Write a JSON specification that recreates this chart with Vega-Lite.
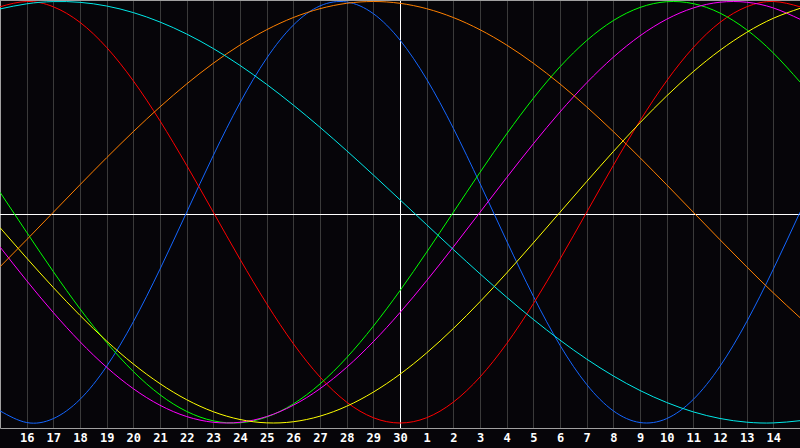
{
  "$schema": "https://vega.github.io/schema/vega-lite/v6.json",
  "description": "Biorhythm chart, seven cycles over 30 days.",
  "width": 800,
  "height": 428,
  "autosize": {"type": "none"},
  "padding": {"left": 0, "right": 0, "top": 0, "bottom": 20},
  "background": "#060509",
  "config": {"view": {"stroke": null, "fill": "#060509"}},
  "data": {"values": [
    {"day":0,"value":-0.9423,"cycle":"physical"},{"day":1,"value":-0.9977,"cycle":"physical"},{"day":2,"value":-0.9791,"cycle":"physical"},{"day":3,"value":-0.8879,"cycle":"physical"},{"day":4,"value":-0.7308,"cycle":"physical"},{"day":5,"value":-0.5196,"cycle":"physical"},{"day":6,"value":-0.2698,"cycle":"physical"},{"day":7,"value":0,"cycle":"physical"},{"day":8,"value":0.2698,"cycle":"physical"},{"day":9,"value":0.5196,"cycle":"physical"},{"day":10,"value":0.7308,"cycle":"physical"},{"day":11,"value":0.8879,"cycle":"physical"},{"day":12,"value":0.9791,"cycle":"physical"},{"day":13,"value":0.9977,"cycle":"physical"},{"day":14,"value":0.9423,"cycle":"physical"},{"day":15,"value":0.8170,"cycle":"physical"},{"day":16,"value":0.6311,"cycle":"physical"},{"day":17,"value":0.3984,"cycle":"physical"},{"day":18,"value":0.1362,"cycle":"physical"},{"day":19,"value":-0.1362,"cycle":"physical"},{"day":20,"value":-0.3984,"cycle":"physical"},{"day":21,"value":-0.6311,"cycle":"physical"},{"day":22,"value":-0.8170,"cycle":"physical"},{"day":23,"value":-0.9423,"cycle":"physical"},{"day":24,"value":-0.9977,"cycle":"physical"},{"day":25,"value":-0.9791,"cycle":"physical"},{"day":26,"value":-0.8879,"cycle":"physical"},{"day":27,"value":-0.7308,"cycle":"physical"},{"day":28,"value":-0.5196,"cycle":"physical"},{"day":29,"value":-0.2698,"cycle":"physical"},{"day":30,"value":0,"cycle":"physical"},
    {"day":0,"value":0.9749,"cycle":"emotional"},{"day":1,"value":1,"cycle":"emotional"},{"day":2,"value":0.9749,"cycle":"emotional"},{"day":3,"value":0.9010,"cycle":"emotional"},{"day":4,"value":0.7818,"cycle":"emotional"},{"day":5,"value":0.6235,"cycle":"emotional"},{"day":6,"value":0.4339,"cycle":"emotional"},{"day":7,"value":0.2225,"cycle":"emotional"},{"day":8,"value":0,"cycle":"emotional"},{"day":9,"value":-0.2225,"cycle":"emotional"},{"day":10,"value":-0.4339,"cycle":"emotional"},{"day":11,"value":-0.6235,"cycle":"emotional"},{"day":12,"value":-0.7818,"cycle":"emotional"},{"day":13,"value":-0.9010,"cycle":"emotional"},{"day":14,"value":-0.9749,"cycle":"emotional"},{"day":15,"value":-1,"cycle":"emotional"},{"day":16,"value":-0.9749,"cycle":"emotional"},{"day":17,"value":-0.9010,"cycle":"emotional"},{"day":18,"value":-0.7818,"cycle":"emotional"},{"day":19,"value":-0.6235,"cycle":"emotional"},{"day":20,"value":-0.4339,"cycle":"emotional"},{"day":21,"value":-0.2225,"cycle":"emotional"},{"day":22,"value":0,"cycle":"emotional"},{"day":23,"value":0.2225,"cycle":"emotional"},{"day":24,"value":0.4339,"cycle":"emotional"},{"day":25,"value":0.6235,"cycle":"emotional"},{"day":26,"value":0.7818,"cycle":"emotional"},{"day":27,"value":0.9010,"cycle":"emotional"},{"day":28,"value":0.9749,"cycle":"emotional"},{"day":29,"value":1,"cycle":"emotional"},{"day":30,"value":0.9749,"cycle":"emotional"},
    {"day":0,"value":0.0951,"cycle":"intellectual"},{"day":1,"value":-0.0951,"cycle":"intellectual"},{"day":2,"value":-0.2817,"cycle":"intellectual"},{"day":3,"value":-0.4582,"cycle":"intellectual"},{"day":4,"value":-0.6182,"cycle":"intellectual"},{"day":5,"value":-0.7557,"cycle":"intellectual"},{"day":6,"value":-0.8660,"cycle":"intellectual"},{"day":7,"value":-0.9450,"cycle":"intellectual"},{"day":8,"value":-0.9898,"cycle":"intellectual"},{"day":9,"value":-0.9989,"cycle":"intellectual"},{"day":10,"value":-0.9718,"cycle":"intellectual"},{"day":11,"value":-0.9096,"cycle":"intellectual"},{"day":12,"value":-0.8146,"cycle":"intellectual"},{"day":13,"value":-0.6901,"cycle":"intellectual"},{"day":14,"value":-0.5406,"cycle":"intellectual"},{"day":15,"value":-0.3717,"cycle":"intellectual"},{"day":16,"value":-0.1893,"cycle":"intellectual"},{"day":17,"value":0,"cycle":"intellectual"},{"day":18,"value":0.1893,"cycle":"intellectual"},{"day":19,"value":0.3717,"cycle":"intellectual"},{"day":20,"value":0.5406,"cycle":"intellectual"},{"day":21,"value":0.6901,"cycle":"intellectual"},{"day":22,"value":0.8146,"cycle":"intellectual"},{"day":23,"value":0.9096,"cycle":"intellectual"},{"day":24,"value":0.9718,"cycle":"intellectual"},{"day":25,"value":0.9989,"cycle":"intellectual"},{"day":26,"value":0.9898,"cycle":"intellectual"},{"day":27,"value":0.9450,"cycle":"intellectual"},{"day":28,"value":0.8660,"cycle":"intellectual"},{"day":29,"value":0.7557,"cycle":"intellectual"},{"day":30,"value":0.6182,"cycle":"intellectual"},
    {"day":0,"value":-0.1646,"cycle":"intuitive"},{"day":1,"value":-0.3247,"cycle":"intuitive"},{"day":2,"value":-0.4759,"cycle":"intuitive"},{"day":3,"value":-0.6142,"cycle":"intuitive"},{"day":4,"value":-0.7357,"cycle":"intuitive"},{"day":5,"value":-0.8372,"cycle":"intuitive"},{"day":6,"value":-0.9158,"cycle":"intuitive"},{"day":7,"value":-0.9694,"cycle":"intuitive"},{"day":8,"value":-0.9966,"cycle":"intuitive"},{"day":9,"value":-0.9966,"cycle":"intuitive"},{"day":10,"value":-0.9694,"cycle":"intuitive"},{"day":11,"value":-0.9158,"cycle":"intuitive"},{"day":12,"value":-0.8372,"cycle":"intuitive"},{"day":13,"value":-0.7357,"cycle":"intuitive"},{"day":14,"value":-0.6142,"cycle":"intuitive"},{"day":15,"value":-0.4759,"cycle":"intuitive"},{"day":16,"value":-0.3247,"cycle":"intuitive"},{"day":17,"value":-0.1646,"cycle":"intuitive"},{"day":18,"value":0,"cycle":"intuitive"},{"day":19,"value":0.1646,"cycle":"intuitive"},{"day":20,"value":0.3247,"cycle":"intuitive"},{"day":21,"value":0.4759,"cycle":"intuitive"},{"day":22,"value":0.6142,"cycle":"intuitive"},{"day":23,"value":0.7357,"cycle":"intuitive"},{"day":24,"value":0.8372,"cycle":"intuitive"},{"day":25,"value":0.9158,"cycle":"intuitive"},{"day":26,"value":0.9694,"cycle":"intuitive"},{"day":27,"value":0.9966,"cycle":"intuitive"},{"day":28,"value":0.9966,"cycle":"intuitive"},{"day":29,"value":0.9694,"cycle":"intuitive"},{"day":30,"value":0.9158,"cycle":"intuitive"},
    {"day":0,"value":-0.0730,"cycle":"aesthetic"},{"day":1,"value":-0.2174,"cycle":"aesthetic"},{"day":2,"value":-0.3572,"cycle":"aesthetic"},{"day":3,"value":-0.4894,"cycle":"aesthetic"},{"day":4,"value":-0.6112,"cycle":"aesthetic"},{"day":5,"value":-0.7200,"cycle":"aesthetic"},{"day":6,"value":-0.8133,"cycle":"aesthetic"},{"day":7,"value":-0.8894,"cycle":"aesthetic"},{"day":8,"value":-0.9465,"cycle":"aesthetic"},{"day":9,"value":-0.9834,"cycle":"aesthetic"},{"day":10,"value":-0.9993,"cycle":"aesthetic"},{"day":11,"value":-0.9940,"cycle":"aesthetic"},{"day":12,"value":-0.9675,"cycle":"aesthetic"},{"day":13,"value":-0.9204,"cycle":"aesthetic"},{"day":14,"value":-0.8535,"cycle":"aesthetic"},{"day":15,"value":-0.7685,"cycle":"aesthetic"},{"day":16,"value":-0.6673,"cycle":"aesthetic"},{"day":17,"value":-0.5518,"cycle":"aesthetic"},{"day":18,"value":-0.4245,"cycle":"aesthetic"},{"day":19,"value":-0.2881,"cycle":"aesthetic"},{"day":20,"value":-0.1456,"cycle":"aesthetic"},{"day":21,"value":0,"cycle":"aesthetic"},{"day":22,"value":0.1456,"cycle":"aesthetic"},{"day":23,"value":0.2881,"cycle":"aesthetic"},{"day":24,"value":0.4245,"cycle":"aesthetic"},{"day":25,"value":0.5518,"cycle":"aesthetic"},{"day":26,"value":0.6673,"cycle":"aesthetic"},{"day":27,"value":0.7685,"cycle":"aesthetic"},{"day":28,"value":0.8535,"cycle":"aesthetic"},{"day":29,"value":0.9204,"cycle":"aesthetic"},{"day":30,"value":0.9675,"cycle":"aesthetic"},
    {"day":0,"value":-0.2588,"cycle":"awareness"},{"day":1,"value":-0.1305,"cycle":"awareness"},{"day":2,"value":0,"cycle":"awareness"},{"day":3,"value":0.1305,"cycle":"awareness"},{"day":4,"value":0.2588,"cycle":"awareness"},{"day":5,"value":0.3827,"cycle":"awareness"},{"day":6,"value":0.5,"cycle":"awareness"},{"day":7,"value":0.6088,"cycle":"awareness"},{"day":8,"value":0.7071,"cycle":"awareness"},{"day":9,"value":0.7934,"cycle":"awareness"},{"day":10,"value":0.8660,"cycle":"awareness"},{"day":11,"value":0.9239,"cycle":"awareness"},{"day":12,"value":0.9659,"cycle":"awareness"},{"day":13,"value":0.9914,"cycle":"awareness"},{"day":14,"value":1,"cycle":"awareness"},{"day":15,"value":0.9914,"cycle":"awareness"},{"day":16,"value":0.9659,"cycle":"awareness"},{"day":17,"value":0.9239,"cycle":"awareness"},{"day":18,"value":0.8660,"cycle":"awareness"},{"day":19,"value":0.7934,"cycle":"awareness"},{"day":20,"value":0.7071,"cycle":"awareness"},{"day":21,"value":0.6088,"cycle":"awareness"},{"day":22,"value":0.5,"cycle":"awareness"},{"day":23,"value":0.3827,"cycle":"awareness"},{"day":24,"value":0.2588,"cycle":"awareness"},{"day":25,"value":0.1305,"cycle":"awareness"},{"day":26,"value":0,"cycle":"awareness"},{"day":27,"value":-0.1305,"cycle":"awareness"},{"day":28,"value":-0.2588,"cycle":"awareness"},{"day":29,"value":-0.3827,"cycle":"awareness"},{"day":30,"value":-0.5,"cycle":"awareness"},
    {"day":0,"value":0.9646,"cycle":"spiritual"},{"day":1,"value":0.9890,"cycle":"spiritual"},{"day":2,"value":0.9996,"cycle":"spiritual"},{"day":3,"value":0.9961,"cycle":"spiritual"},{"day":4,"value":0.9786,"cycle":"spiritual"},{"day":5,"value":0.9473,"cycle":"spiritual"},{"day":6,"value":0.9027,"cycle":"spiritual"},{"day":7,"value":0.8457,"cycle":"spiritual"},{"day":8,"value":0.7767,"cycle":"spiritual"},{"day":9,"value":0.6967,"cycle":"spiritual"},{"day":10,"value":0.6068,"cycle":"spiritual"},{"day":11,"value":0.5085,"cycle":"spiritual"},{"day":12,"value":0.4031,"cycle":"spiritual"},{"day":13,"value":0.2921,"cycle":"spiritual"},{"day":14,"value":0.1769,"cycle":"spiritual"},{"day":15,"value":0.0592,"cycle":"spiritual"},{"day":16,"value":-0.0592,"cycle":"spiritual"},{"day":17,"value":-0.1769,"cycle":"spiritual"},{"day":18,"value":-0.2921,"cycle":"spiritual"},{"day":19,"value":-0.4031,"cycle":"spiritual"},{"day":20,"value":-0.5085,"cycle":"spiritual"},{"day":21,"value":-0.6068,"cycle":"spiritual"},{"day":22,"value":-0.6967,"cycle":"spiritual"},{"day":23,"value":-0.7767,"cycle":"spiritual"},{"day":24,"value":-0.8457,"cycle":"spiritual"},{"day":25,"value":-0.9027,"cycle":"spiritual"},{"day":26,"value":-0.9473,"cycle":"spiritual"},{"day":27,"value":-0.9786,"cycle":"spiritual"},{"day":28,"value":-0.9961,"cycle":"spiritual"},{"day":29,"value":-0.9996,"cycle":"spiritual"},{"day":30,"value":-0.9890,"cycle":"spiritual"}
  ]},
  "encoding": {
    "x": {
      "field": "day",
      "type": "quantitative",
      "scale": {"domain": [0, 30], "nice": false, "zero": false},
      "axis": {
        "title": null,
        "values": [1,2,3,4,5,6,7,8,9,10,11,12,13,14,15,16,17,18,19,20,21,22,23,24,25,26,27,28,29],
        "labelExpr": "datum.value <= 15 ? datum.value + 15 : datum.value - 15",
        "grid": true,
        "gridColor": "#3a3a3a",
        "ticks": false,
        "domainColor": "#a0a0a0",
        "labelColor": "#ffffff",
        "labelFont": "DejaVu Sans Mono",
        "labelFontWeight": "bold",
        "labelFontSize": 12,
        "labelPadding": 4,
        "labelFlush": false,
        "labelOverlap": false
      }
    },
    "y": {
      "field": "value",
      "type": "quantitative",
      "scale": {"domain": [-1.0237, 1.0071], "nice": false, "zero": false},
      "axis": {"title": null, "labels": false, "ticks": false, "grid": false, "domainColor": "#a0a0a0"}
    }
  },
  "layer": [
    {
      "mark": {"type": "rule", "color": "#ffffff", "strokeWidth": 1},
      "encoding": {"x": {"datum": 15.01875}, "y": null}
    },
    {
      "mark": {"type": "rule", "color": "#ffffff", "strokeWidth": 1},
      "encoding": {"y": {"datum": -0.0107}, "x": null}
    },
    {
      "mark": {"type": "rule", "color": "#a0a0a0", "strokeWidth": 2},
      "encoding": {"y": {"datum": 1.0071}, "x": null}
    },
    {
      "mark": {"type": "line", "strokeWidth": 1, "interpolate": "natural"},
      "encoding": {
        "color": {
          "field": "cycle",
          "type": "nominal",
          "legend": null,
          "scale": {
            "domain": ["physical", "emotional", "intellectual", "intuitive", "aesthetic", "awareness", "spiritual"],
            "range": ["#1466ff", "#ff0000", "#00ff00", "#ff00ff", "#ffff00", "#ff8000", "#00e8e8"]
          }
        }
      }
    }
  ]
}
